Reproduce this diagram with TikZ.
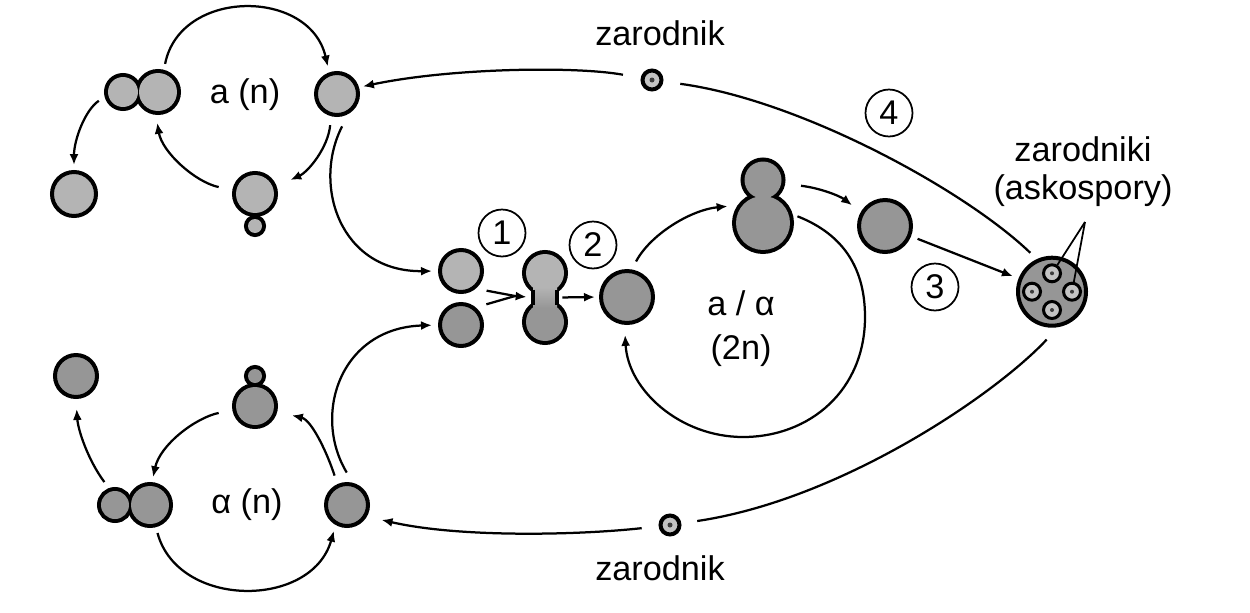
\documentclass[tikz,border=0pt]{standalone}
\usepackage{fontspec}
\setmainfont{Liberation Sans}
\usepackage{tikz}
\usetikzlibrary{arrows.meta,positioning,calc,shapes}

\definecolor{cellA}{RGB}{180,180,180}
\definecolor{cellB}{RGB}{150,150,150}
\definecolor{sporeL}{RGB}{195,195,195}
\definecolor{sporeD}{RGB}{60,60,60}

\begin{document}
\begin{tikzpicture}[x=0.02cm, y=-0.02cm,
    font=\fontsize{19.5}{22}\selectfont,
    cell/.style={circle, draw=black, line width=0.08cm, inner sep=0pt, minimum size=#1},
    rim/.style={circle, draw=black, line width=0.16cm, inner sep=0pt, minimum size=#1},
    body/.style={circle, inner sep=0pt, minimum size=#1},
    spore/.style={circle, draw=black, fill=sporeL, inner sep=0pt, minimum size=#1},
    numc/.style={circle, draw=black, line width=0.035cm, inner sep=0pt, minimum size=0.94cm},
    arr/.style={-{Latex[length=0.22cm,width=0.18cm]}, line width=0.045cm},
    link/.style={line width=0.045cm}]

    \useasboundingbox (0,0) rectangle (1250,612);

    % Mating
    \node[cell=0.84cm, fill=cellA] (fA) at (461,271) {};
    \node[cell=0.84cm, fill=cellB] (fB) at (461,325) {};
    \coordinate (mrg) at (515,296);
    \draw[link, shorten <=0.22cm] (fA.-50) -- (mrg);
    \draw[link, shorten <=0.22cm] (fB.50) -- (mrg);

    % Haploid a (n)
    \node[rim=0.6cm] (aD1) at (123,92) {};
    \node[rim=0.76cm] (aD2) at (158,92) {};
    \node[body=0.6cm, fill=cellA] at (aD1) {};
    \node[body=0.76cm, fill=cellA] at (aD2) {};
    \node[cell=0.84cm, fill=cellA] (aR) at (337,94) {};
    \node[cell=0.88cm, fill=cellA] (aS) at (74,194) {};
    \node[rim=0.28cm] (aBb) at (255,226) {};
    \node[rim=0.76cm] (aB) at (255,194) {};
    \node[body=0.28cm, fill=cellA] at (aBb) {};
    \node[body=0.76cm, fill=cellA] at (aB) {};
    \node[anchor=base] (aLab) at (245,103) {a (n)};

    \draw[arr, shorten <=0.12cm, shorten >=0.12cm] (aD2.75) .. controls (180,-12) and (310,-12) .. (aR.110);
    \draw[arr, shorten <=0.18cm, shorten >=0.3cm] (aR.255) .. controls (328,148) and (308,172) .. (aB.20);
    \draw[arr, shorten <=0.28cm, shorten >=0.16cm] (aB.170) .. controls (195,182) and (162,152) .. (aD2.265);
    \draw[arr, shorten <=0.14cm, shorten >=0.1cm] (aD1.195) .. controls (85,110) and (74,140) .. (aS.90);
    \draw[arr, shorten <=0.28cm, shorten >=0.12cm] (aR.300) .. controls (312,185) and (340,272) .. (fA.180);

    % Haploid alpha (n)
    \node[cell=0.84cm, fill=cellB] (bS) at (76,376) {};
    \node[rim=0.28cm] (bBb) at (255,376) {};
    \node[rim=0.76cm] (bB) at (255,406) {};
    \node[body=0.28cm, fill=cellB] at (bBb) {};
    \node[body=0.76cm, fill=cellB] at (bB) {};
    \node[rim=0.56cm] (bD1) at (115,505) {};
    \node[rim=0.76cm] (bD2) at (150,505) {};
    \node[body=0.56cm, fill=cellB] at (bD1) {};
    \node[body=0.76cm, fill=cellB] at (bD2) {};
    \node[cell=0.84cm, fill=cellB] (bR) at (347,505) {};
    \node[anchor=base] (bLab) at (247,513) {α (n)};

    \draw[arr, shorten <=0.12cm, shorten >=0.12cm] (bD2.285) .. controls (178,609) and (312,609) .. (bR.240);
    \draw[arr, shorten <=0.18cm, shorten >=0.3cm] (bR.115) .. controls (328,455) and (312,420) .. (bB.345);
    \draw[arr, shorten <=0.28cm, shorten >=0.1cm] (bB.190) .. controls (195,418) and (160,445) .. (bD2.85);
    \draw[arr, shorten <=0.15cm, shorten >=0.2cm] (bD1.110) .. controls (88,460) and (78,430) .. (bS.270);
    \draw[arr, shorten <=0.24cm, shorten >=0.12cm] (bR.75) .. controls (312,415) and (340,328) .. (fB.180);

    % Fusion
    \node[rim=0.76cm] (dT) at (545,273) {};
    \node[rim=0.76cm] (dB) at (545,322) {};
    \node[body=0.76cm, fill=cellA] at (dT) {};
    \node[body=0.76cm, fill=cellB] at (dB) {};
    \node[rectangle, inner sep=0pt, minimum width=0.48cm, minimum height=0.42cm,
          top color=cellA, bottom color=cellB] (neck) at (545,297.5) {};
    \draw[line width=0.08cm, shorten <=0.06cm, shorten >=0.06cm] (neck.north west) -- (neck.south west);
    \draw[line width=0.08cm, shorten <=0.06cm, shorten >=0.06cm] (neck.north east) -- (neck.south east);
    \draw[arr, shorten >=0.12cm] (mrg) -- (neck.west);

    % Diploid a / alpha (2n)
    \node[cell=1.04cm, fill=cellB] (zyg) at (627,297) {};
    \draw[arr, shorten <=0.1cm, shorten >=0.08cm] (neck.east) -- (zyg.west);
    \node[rim=0.74cm] (dipT) at (763,180) {};
    \node[rim=1.08cm] (dipB) at (763,223) {};
    \node[body=0.74cm, fill=cellB] at (dipT) {};
    \node[body=1.08cm, fill=cellB] at (dipB) {};
    \node[cell=1.04cm, fill=cellB] (dR) at (885,226) {};
    \node[align=center, font=\fontsize{19.5}{25}\selectfont] (dLab) at (741,329) {a / α\\(2n)};

    \draw[arr, shorten <=0.18cm, shorten >=0.2cm] (zyg.80) .. controls (650,235) and (690,210) .. (dipB.145);
    \draw[arr, shorten <=0.32cm, shorten >=0.22cm] (dipT.-10) .. controls (820,188) and (840,196) .. (dR.150);
    \draw[arr, shorten <=0.1cm, shorten >=0.2cm] (dipB.16) .. controls (845,235) and (865,270) .. (865,317)
        .. controls (865,390) and (810,437) .. (743,437)
        .. controls (680,437) and (628,390) .. (zyg.265);

    % Ascus
    \node[cell=1.36cm, fill=cellB] (asc) at (1052,291.7) {};
    \node[spore=0.34cm, line width=0.06cm] (sp1) at (1052,273.3) {};
    \node[spore=0.34cm, line width=0.06cm] (sp2) at (1072,291.7) {};
    \node[spore=0.34cm, line width=0.06cm] (sp3) at (1052,310) {};
    \node[spore=0.34cm, line width=0.06cm] (sp4) at (1032,291.7) {};
    \fill[sporeD] (sp1) circle (0.04cm) (sp2) circle (0.04cm) (sp3) circle (0.04cm) (sp4) circle (0.04cm);
    \draw[arr, shorten <=0.14cm, shorten >=0.12cm] (dR) -- (asc);
    \node[align=center, font=\fontsize{19.5}{21.5}\selectfont] (ascLab) at (1083,172) {zarodniki\\(askospory)};
    \coordinate (apex) at (1085,222);
    \draw[line width=0.035cm] (apex) -- (sp1);
    \draw[line width=0.035cm] (apex) -- (sp2);

    % Spores back to haploids
    \node[spore=0.38cm, line width=0.08cm] (zT) at (652,80) {};
    \fill[sporeD] (zT) circle (0.05cm);
    \node[anchor=base] (zTLab) at (660,45) {zarodnik};
    \node[spore=0.38cm, line width=0.08cm] (zB) at (670,525) {};
    \fill[sporeD] (zB) circle (0.05cm);
    \node[anchor=base] (zBLab) at (660,580) {zarodnik};

    \draw[link, shorten <=0.18cm, shorten >=0.34cm] (asc.115) .. controls (965,190) and (800,100) .. (zT);
    \draw[arr, shorten <=0.36cm, shorten >=0.08cm] (zT) .. controls (575,66) and (450,68) .. (aR.17);
    \draw[link, shorten <=0.34cm, shorten >=0.32cm] (asc.280) .. controls (995,395) and (840,500) .. (zB);
    \draw[arr, shorten <=0.34cm, shorten >=0.3cm] (zB) .. controls (580,535) and (460,538) .. (bR.-30);

    % Steps
    \node[numc] (n1) at (502,233) {1};
    \node[numc] (n2) at (593,245) {2};
    \node[numc] (n3) at (935,287) {3};
    \node[numc] (n4) at (889,113) {4};
\end{tikzpicture}
\end{document}
